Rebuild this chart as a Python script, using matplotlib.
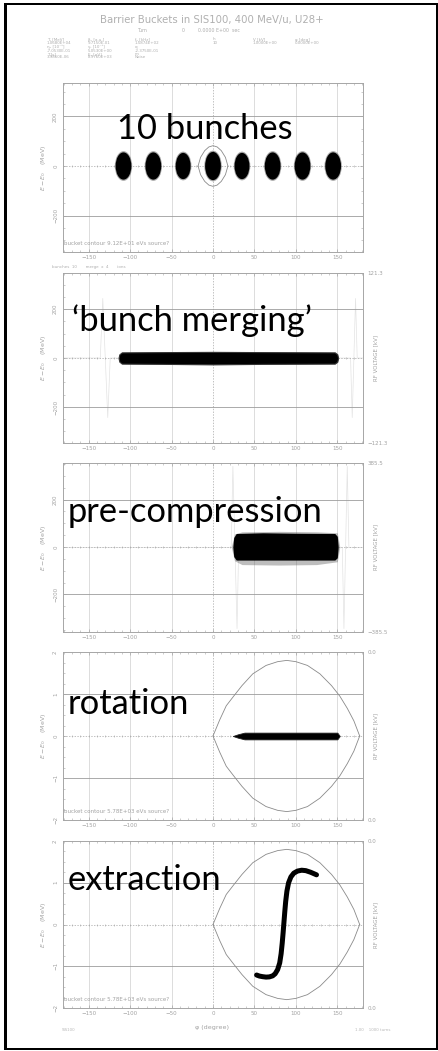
import numpy as np
import matplotlib
matplotlib.use("Agg")
import matplotlib.pyplot as plt
from matplotlib.patches import Ellipse, Rectangle
from matplotlib.ticker import MultipleLocator

W, H, DPI = 438, 1051, 100

# ---------------- data ----------------
title = "Barrier Buckets in SIS100, 400 MeV/u, U28+"
turn_line = ["Turn", "0", "0.0000 E+00  sec"]
param_names = [["T\u2080 [MeV]", "\u03b2\u2080 [a.u.]", "f\u2080 [kHz]", "h", "V [kV]", "\u03c6 [deg]"],
               ["\u03b7\u2080 [10\u207b\u00b3]", "\u03b3\u209c [10\u207b\u00b3]", "q", "", "", ""],
               ["T [s]", "E\u209b [eV]", "m", "", "", ""]]
param_values = [["1.0680E+04", "9.7150E-01", "1.5874E+02", "10", "1.0000E+00", "0.0000E+00"],
                ["-7.0530E-01", "5.0530E+00", "-2.3750E-01", "", "", ""],
                ["3.9860E-06", "8.9760E+03", "Noise", "", "", ""]]

phase_ticks = [-150, -100, -50, 0, 50, 100, 150]
energy_ticks_large = [-200, 0, 200]
energy_ticks_small = [-2, -1, 0, 1, 2]
stage_labels = ["10 bunches", "\u2018bunch merging\u2019", "pre-compression", "rotation", "extraction"]
rf_voltage_limits = [None, 121.3, 385.5, 0.0, 0.0]
bucket_notes = ["bucket contour 9.12E+01 eVs source?", None, None,
                "bucket contour 5.78E+03 eVs source?", "bucket contour 5.78E+03 eVs source?"]

# panel 1: individual bunches (centre phase, half width in deg, half height in MeV)
bunch_phase = [-108, -72, -36, 0, 35, 72, 108, 145]
bunch_half_width = [9.5, 9.5, 9.0, 9.5, 9.0, 9.5, 9.5, 9.5]
bunch_half_height = [55, 55, 53, 57, 53, 55, 55, 55]
# panel 1: bucket around the centre bunch
bucket1_phase = [-18, -15, -10, -5, 0, 5, 10, 15, 18]
bucket1_upper = [0, 35, 62, 77, 82, 77, 62, 35, 0]
bucket1_lower = [0, -35, -62, -77, -82, -77, -62, -35, 0]

# panel 2: merged coasting band
merged_phase = [-114, -113, -110, -60, 0, 60, 147, 150, 151]
merged_upper = [0, 15, 23, 24, 25, 24, 23, 15, 0]
merged_lower = [0, -15, -23, -24, -26, -24, -23, -15, 0]
rf2_phase = [-181, -136, -133, -130, -127, -124, 166, 168, 170, 172, 174, 181]
rf2_kv = [0, 0, 85, 0, -85, 0, 0, -85, 0, 85, 0, 0]

# panel 3: pre-compressed block (dense core and sparse halo)
pre_phase = [24, 25, 28, 60, 100, 147, 150, 151]
pre_upper = [5, 40, 57, 60, 58, 57, 45, 5]
pre_lower = [-5, -40, -55, -55, -55, -55, -45, -5]
pre_halo_phase = [22, 26, 35, 80, 125, 150, 153]
pre_halo_upper = [0, 55, 64, 66, 64, 60, 0]
pre_halo_lower = [0, -58, -74, -76, -74, -62, 0]
rf3_phase = [-181, 22, 24, 26.5, 29, 31, 156, 158, 160, 162, 164, 181]
rf3_kv = [0, 0, 370, 0, -370, 0, 0, -370, 0, 370, 0, 0]

# panels 4-5: barrier bucket separatrix
sep_phase = [0, 8, 16, 25, 35, 48, 64, 78, 89, 100, 114, 129, 143, 153, 162, 170, 177]
sep_upper = [0, 0.38, 0.72, 0.95, 1.2, 1.48, 1.68, 1.77, 1.80, 1.77, 1.68, 1.48, 1.2, 0.95, 0.66, 0.36, 0]
sep_lower = [0, -0.38, -0.72, -0.95, -1.2, -1.48, -1.68, -1.77, -1.80, -1.77, -1.68, -1.48, -1.2, -0.95, -0.66, -0.36, 0]

# panel 4: rotated thin band
rot_phase = [24, 30, 38, 100, 150, 153]
rot_upper = [0, 0.04, 0.08, 0.08, 0.08, 0]
rot_lower = [0, -0.04, -0.08, -0.08, -0.08, 0]

# panel 5: extracted S-shaped bunch
ext_phase = [52.6, 56, 60, 64, 68, 72, 75, 78, 80.5, 82.2, 83.5, 84.6, 85.6, 86.6, 87.7,
             89.2, 91.2, 94, 97.5, 102, 107, 112, 118, 124.9]
ext_energy = [-1.21, -1.235, -1.25, -1.26, -1.255, -1.23, -1.18, -1.08, -0.92, -0.70, -0.45,
              -0.20, 0.05, 0.30, 0.55, 0.80, 1.00, 1.14, 1.23, 1.28, 1.30, 1.29, 1.25, 1.19]

# ---------------- styling ----------------
FRAME = "#a6a6a6"
GRID_V = "#cfcfcf"
GRID_H = "#9c9c9c"
TXT = "#a2a2a2"
FAINT = "#e3e3e3"
HEAD = "#adadad"

panel_px = [(83, 252), (273, 443), (463, 632), (652, 820), (841, 1008)]
ax_left_px, ax_right_px = 63, 363
ylims = [(-347, 335), (-347, 347), (-358, 354), (-2.0, 2.0), (-1.98, 1.96)]

fig = plt.figure(figsize=(W / DPI, H / DPI), dpi=DPI)
fig.patch.set_facecolor("white")


def fx(px):
    return px / W


def fy(py):
    return 1 - py / H


def fmt(v):
    return f"{v:g}".replace("-", "\u2212")


def style_axes(ax, ylim, yticks, grid_y, minor_y):
    ax.set_xlim(-181, 181)
    ax.set_ylim(*ylim)
    for sp in ax.spines.values():
        sp.set_color(FRAME)
        sp.set_linewidth(0.7)
    ax.set_xticks(phase_ticks)
    ax.set_xticklabels([fmt(t) for t in phase_ticks])
    ax.set_yticks(yticks)
    ax.set_yticklabels([fmt(t) for t in yticks], rotation=90, va="center")
    ax.xaxis.set_minor_locator(MultipleLocator(10))
    ax.yaxis.set_minor_locator(MultipleLocator(minor_y))
    ax.tick_params(which="major", direction="in", length=2.5, width=0.5, colors=FRAME,
                   labelcolor=TXT, labelsize=4, pad=2.5, top=True, right=True)
    ax.tick_params(axis="y", which="major", pad=3.5)
    ax.tick_params(which="minor", direction="in", length=1.4, width=0.4, colors=FRAME,
                   top=True, right=True)
    for x in phase_ticks:
        if x == 0:
            ax.axvline(0, color=FRAME, lw=0.5, ls=(0, (2, 2)), zorder=0.5)
        else:
            ax.axvline(x, color=GRID_V, lw=0.5, zorder=0.5)
    for y in grid_y:
        ax.axhline(y, color=GRID_H, lw=0.6, zorder=0.5)
    ax.axhline(0, color=FRAME, lw=0.5, ls=(0, (2, 2)), zorder=0.5)
    ax.plot(np.arange(-170, 180, 10), np.zeros(35), ls="none", marker="|", ms=2,
            mew=0.4, color=FRAME, zorder=0.6)


axes = []
rf_axes = []
for i, (top, bottom) in enumerate(panel_px):
    ax = fig.add_axes([fx(ax_left_px), fy(bottom), fx(ax_right_px - ax_left_px),
                       (bottom - top) / H])
    if i < 3:
        style_axes(ax, ylims[i], energy_ticks_large, [-200, 200], 50)
    else:
        style_axes(ax, ylims[i], energy_ticks_small, [-1, 1], 0.25)
    axes.append(ax)

    # RF voltage scale on the right (drawn underneath the phase-space axes)
    vlim = rf_voltage_limits[i]
    tw = None
    if vlim is not None:
        tw = ax.twinx()
        span = vlim if vlim > 0 else 1.0
        tw.set_ylim(-span, span)
        tw.set_yticks([-span, span])
        tw.set_yticklabels([("\u2212" if vlim > 0 else "") + f"{vlim:.1f}", f"{vlim:.1f}"])
        tw.tick_params(direction="in", length=2, width=0.5, colors=FRAME, labelcolor=TXT,
                       labelsize=4, pad=3)
        for sp in tw.spines.values():
            sp.set_visible(False)
        ax.set_zorder(tw.get_zorder() + 1)
        ax.patch.set_visible(False)
        fig.text(fx(376), fy((top + bottom) / 2), "RF VOLTAGE [kV]", rotation=90,
                 ha="center", va="center", fontsize=4, color=TXT)
    rf_axes.append(tw)

    fig.text(fx(44), fy((top + bottom) / 2), r"$E - E_0$    (MeV)", rotation=90,
             ha="center", va="center", fontsize=4.5, color=TXT)

    if bucket_notes[i]:
        ax.text(0.004, 0.035, bucket_notes[i], transform=ax.transAxes, fontsize=4,
                color=TXT, ha="left", va="bottom")

# ---- panel 1: ten-bunch train ----
ax = axes[0]
for c, w, h in zip(bunch_phase, bunch_half_width, bunch_half_height):
    ax.add_patch(Ellipse((c, 0), 2 * w + 2, 2 * h + 10, color="#555555", alpha=0.5, lw=0, zorder=2))
    ax.add_patch(Ellipse((c, 0), 2 * w, 2 * h, color="black", lw=0, zorder=3))
ax.plot(bucket1_phase, bucket1_upper, color="#8a8a8a", lw=0.6, zorder=2.5)
ax.plot(bucket1_phase, bucket1_lower, color="#8a8a8a", lw=0.6, zorder=2.5)

# ---- panel 2: merged coasting beam ----
ax = axes[1]
rf_axes[1].plot(rf2_phase, rf2_kv, color=FAINT, lw=0.5)
ax.fill_between(merged_phase, merged_lower, merged_upper, color="black", lw=0.8,
                edgecolor="#333333", zorder=3)

# ---- panel 3: pre-compression ----
ax = axes[2]
rf_axes[2].plot(rf3_phase, rf3_kv, color=FAINT, lw=0.5)
ax.fill_between(pre_halo_phase, pre_halo_lower, pre_halo_upper, color="#5a5a5a", alpha=0.4,
                lw=0, zorder=2)
ax.fill_between(pre_phase, pre_lower, pre_upper, color="black", lw=0, zorder=3)

# ---- panel 4: rotation ----
ax = axes[3]
ax.plot(sep_phase, sep_upper, color="#8a8a8a", lw=0.6, zorder=2)
ax.plot(sep_phase, sep_lower, color="#8a8a8a", lw=0.6, zorder=2)
ax.fill_between(rot_phase, rot_lower, rot_upper, color="black", lw=0.6, edgecolor="#222222",
                zorder=3)

# ---- panel 5: extraction ----
ax = axes[4]
ax.plot(sep_phase, sep_upper, color="#8a8a8a", lw=0.6, zorder=2)
ax.plot(sep_phase, sep_lower, color="#8a8a8a", lw=0.6, zorder=2)
ax.plot(ext_phase, ext_energy, color="black", lw=3.6, solid_capstyle="round",
        solid_joinstyle="round", zorder=3)

# ---- stage captions ----
caption_pos = [(117, 139), (72, 331), (68, 522), (68, 714), (68, 890)]
for text, (px, py) in zip(stage_labels, caption_pos):
    fig.text(fx(px), fy(py), text, fontsize=24.8, family="Lato", color="black",
             ha="left", va="baseline")

# ---- header ----
fig.text(fx(212), fy(20), title, fontsize=7.3, color="#b0b0b0", ha="center", va="center")
for s, px in zip(turn_line, [138, 182, 198]):
    fig.text(fx(px), fy(31), s, fontsize=3.4, color=HEAD, ha="left", va="center")
col_px = [47, 88, 135, 213, 253, 295]
row_py = [39.5, 43, 47, 50.5, 54, 57.5]
for r in range(3):
    for c in range(6):
        if param_names[r][c]:
            fig.text(fx(col_px[c]), fy(row_py[2 * r]), param_names[r][c], fontsize=2.9,
                     color=HEAD, ha="left", va="center")
        if param_values[r][c]:
            fig.text(fx(col_px[c]), fy(row_py[2 * r + 1]), param_values[r][c], fontsize=2.9,
                     color=HEAD, ha="left", va="center")

fig.text(fx(52), fy(266.5), "bunches  10       merge  x  4       ions", fontsize=2.9,
         color=HEAD, ha="left", va="center")

# ---- footer ----
fig.text(fx(212), fy(1027), "\u03c6 (degree)", fontsize=4.6, color=TXT, ha="center", va="center")
fig.text(fx(62), fy(1030), "SIS100", fontsize=2.9, color="#b8b8b8", ha="left", va="center")
fig.text(fx(355), fy(1030), "1.00    1000 turns", fontsize=2.9, color="#b8b8b8",
         ha="left", va="center")

# ---- slide frame ----
frame_parts = [(4, 2.7, 3.3, 1047), (4, 2.7, 433.5, 2.0), (4, 1047.5, 433.5, 2.0),
               (436, 2.7, 1.5, 1046.8)]
for x0, y0, w, h in frame_parts:
    fig.add_artist(Rectangle((fx(x0), fy(y0 + h)), w / W, h / H, transform=fig.transFigure,
                             color="black", lw=0))

fig.savefig("out.png", dpi=DPI, facecolor="white")
